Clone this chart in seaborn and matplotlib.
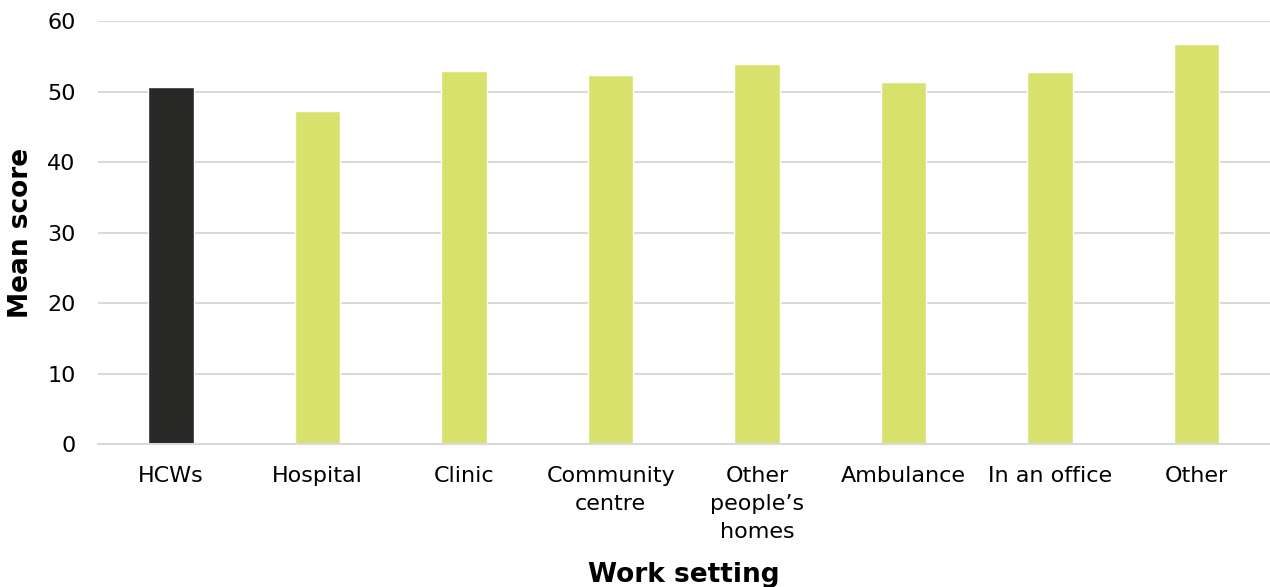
import matplotlib
matplotlib.use("Agg")
import matplotlib.pyplot as plt
import seaborn as sns
import pandas as pd

categories = ["HCWs", "Hospital", "Clinic", "Community\ncentre",
              "Other\npeople\u2019s\nhomes", "Ambulance", "In an office", "Other"]
values = [50.6, 47.2, 52.9, 52.3, 53.9, 51.3, 52.8, 56.8]
colors = ["#282826"] + ["#d9e16d"] * 7
y_ticks = [0, 10, 20, 30, 40, 50, 60]

sns.set_theme(style="white")
plt.rcParams['font.family'] = ['DejaVu Sans']

df = pd.DataFrame({"setting": categories, "score": values})

fig = plt.figure(figsize=(12.7, 5.87), dpi=100)
ax = fig.add_axes([0.077, 0.2436, 0.923, 0.7206])

sns.barplot(data=df, x="setting", y="score", hue="setting", palette=colors,
            width=0.31, legend=False, ax=ax, saturation=1)

ax.set_ylim(0, 60)
ax.set_yticks(y_ticks)
ax.set_xlim(-0.5, len(categories) - 0.5)
ax.yaxis.grid(True, color="#d9d9d9", linewidth=1.5)
ax.set_axisbelow(True)
for s in ["top", "right", "left"]:
    ax.spines[s].set_visible(False)
ax.spines["bottom"].set_color("#d9d9d9")
ax.spines["bottom"].set_linewidth(1.5)
ax.tick_params(axis="both", length=0, labelsize=16, colors="black")
ax.tick_params(axis="x", pad=16)
ax.tick_params(axis="y", pad=16)
for lbl in ax.get_xticklabels():
    lbl.set_linespacing(1.5)

ax.set_xlabel("Work setting", fontsize=19, fontweight="bold", labelpad=14, color="black")
ax.set_ylabel("Mean score", fontsize=19, fontweight="bold", color="black")
ax.yaxis.set_label_coords(-0.054, 0.5)

fig.savefig("out.png", dpi=100)
